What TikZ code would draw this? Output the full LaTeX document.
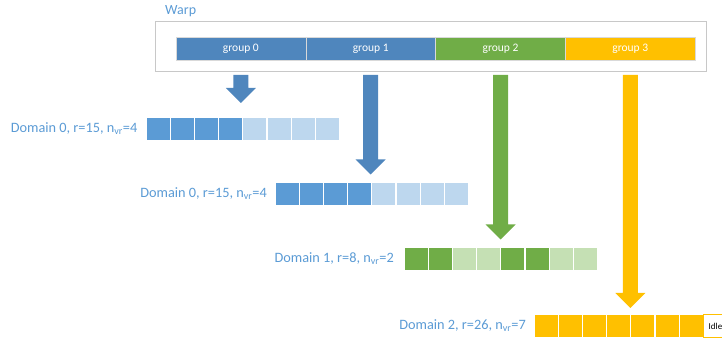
\documentclass[tikz,border=0pt]{standalone}
\usepackage{fontspec}
\setmainfont{Carlito}
\usetikzlibrary{calc}

\definecolor{grpblue}{HTML}{4F86BD}
\definecolor{cellblue}{HTML}{5B9BD5}
\definecolor{cellbluelt}{HTML}{BDD7EE}
\definecolor{grpgreen}{HTML}{70AD47}
\definecolor{cellgreenlt}{HTML}{C5E0B4}
\definecolor{grpyellow}{HTML}{FFC000}
\definecolor{lbltext}{HTML}{5B9BD5}
\definecolor{boxline}{HTML}{C8C8C8}

% block arrow from a group down to a tip coordinate
\newcommand\blockarr[3]{%
  \fill[#1] let \p1=(#2.south), \p3=(warp.south), \p2=(#3) in
    (\x1-7.5pt,\y3-3pt) -- (\x1+7.5pt,\y3-3pt) -- (\x1+7.5pt,\y2+15pt)
    -- (\x1+15pt,\y2+15pt) -- (\x1,\y2) -- (\x1-15pt,\y2+15pt)
    -- (\x1-7.5pt,\y2+15pt) -- cycle;}

\begin{document}
\begin{tikzpicture}[x=1pt,y=-1pt,
  cell/.style={draw=white, line width=1.1pt, minimum width=24.2pt,
    minimum height=24pt, inner sep=0pt, outer sep=0pt, anchor=north west},
  grp/.style={draw=boxline!70, line width=0.6pt, minimum width=129.8pt,
    minimum height=23.3pt, inner sep=0pt, outer sep=0pt, anchor=north west,
    text=white, font=\fontsize{11.5}{13}\selectfont},
  lbl/.style={text=lbltext, anchor=east, inner sep=0pt,
    font=\fontsize{14.3}{16}\selectfont}]
\useasboundingbox (0,0) rectangle (722,344);
\clip (0,0) rectangle (722,344);

% warp frame and its groups
\node[draw=boxline, line width=0.9pt, minimum width=551pt, minimum height=50pt,
  anchor=north west, inner sep=0pt] (warp) at (155,21) {};
\node[text=lbltext, anchor=west, inner sep=0pt,
  font=\fontsize{14}{16}\selectfont] (warplbl) at (165,11) {Warp};
\node[grp, fill=grpblue] (g0) at (176,37) {group 0};
\node[grp, fill=grpblue, anchor=west] (g1) at (g0.east) {group 1};
\node[grp, fill=grpgreen, anchor=west] (g2) at (g1.east) {group 2};
\node[grp, fill=grpyellow, anchor=west] (g3) at (g2.east) {group 3};

% domain rows
\foreach \i/\c in {1/cellblue,2/cellblue,3/cellblue,4/cellblue,
                   5/cellbluelt,6/cellbluelt,7/cellbluelt,8/cellbluelt}{
  \node[cell, fill=\c] (a\i) at ({146+24.2*(\i-1)},117) {};
  \node[cell, fill=\c] (b\i) at ({275+24.2*(\i-1)},182) {};
}
\foreach \i/\c in {1/grpgreen,2/grpgreen,3/cellgreenlt,4/cellgreenlt,
                   5/grpgreen,6/grpgreen,7/cellgreenlt,8/cellgreenlt}{
  \node[cell, fill=\c] (c\i) at ({404+24.2*(\i-1)},247) {};
}
\foreach \i in {1,...,7}{
  \node[cell, fill=grpyellow] (d\i) at ({534+24.2*(\i-1)},314) {};
}
\node[cell, draw=grpyellow, line width=1pt, fill=white, minimum width=26pt,
  minimum height=23pt] (idle) at (703.5,314.5) {};
\node[anchor=west, inner sep=0pt, font=\fontsize{9}{10}\selectfont]
  (idlelbl) at ([xshift=5pt]idle.west) {Idle};

\node[lbl] (la) at ([xshift=-8.5pt]a1.west) {Domain 0, r=15, n\textsubscript{vr}=4};
\node[lbl] (lb) at ([xshift=-8pt]b1.west) {Domain 0, r=15, n\textsubscript{vr}=4};
\node[lbl] (lc) at ([xshift=-10pt]c1.west) {Domain 1, r=8, n\textsubscript{vr}=2};
\node[lbl] (ld) at ([xshift=-8pt]d1.west) {Domain 2, r=26, n\textsubscript{vr}=7};

% arrow tips
\coordinate (ta) at (241,103);
\coordinate (tb) at (371,174.5);
\coordinate (tc) at (501,239.5);
\coordinate (td) at (630,308);

\blockarr{grpblue}{g0}{ta}
\blockarr{grpblue}{g1}{tb}
\blockarr{grpgreen}{g2}{tc}
\blockarr{grpyellow}{g3}{td}
\end{tikzpicture}
\end{document}
